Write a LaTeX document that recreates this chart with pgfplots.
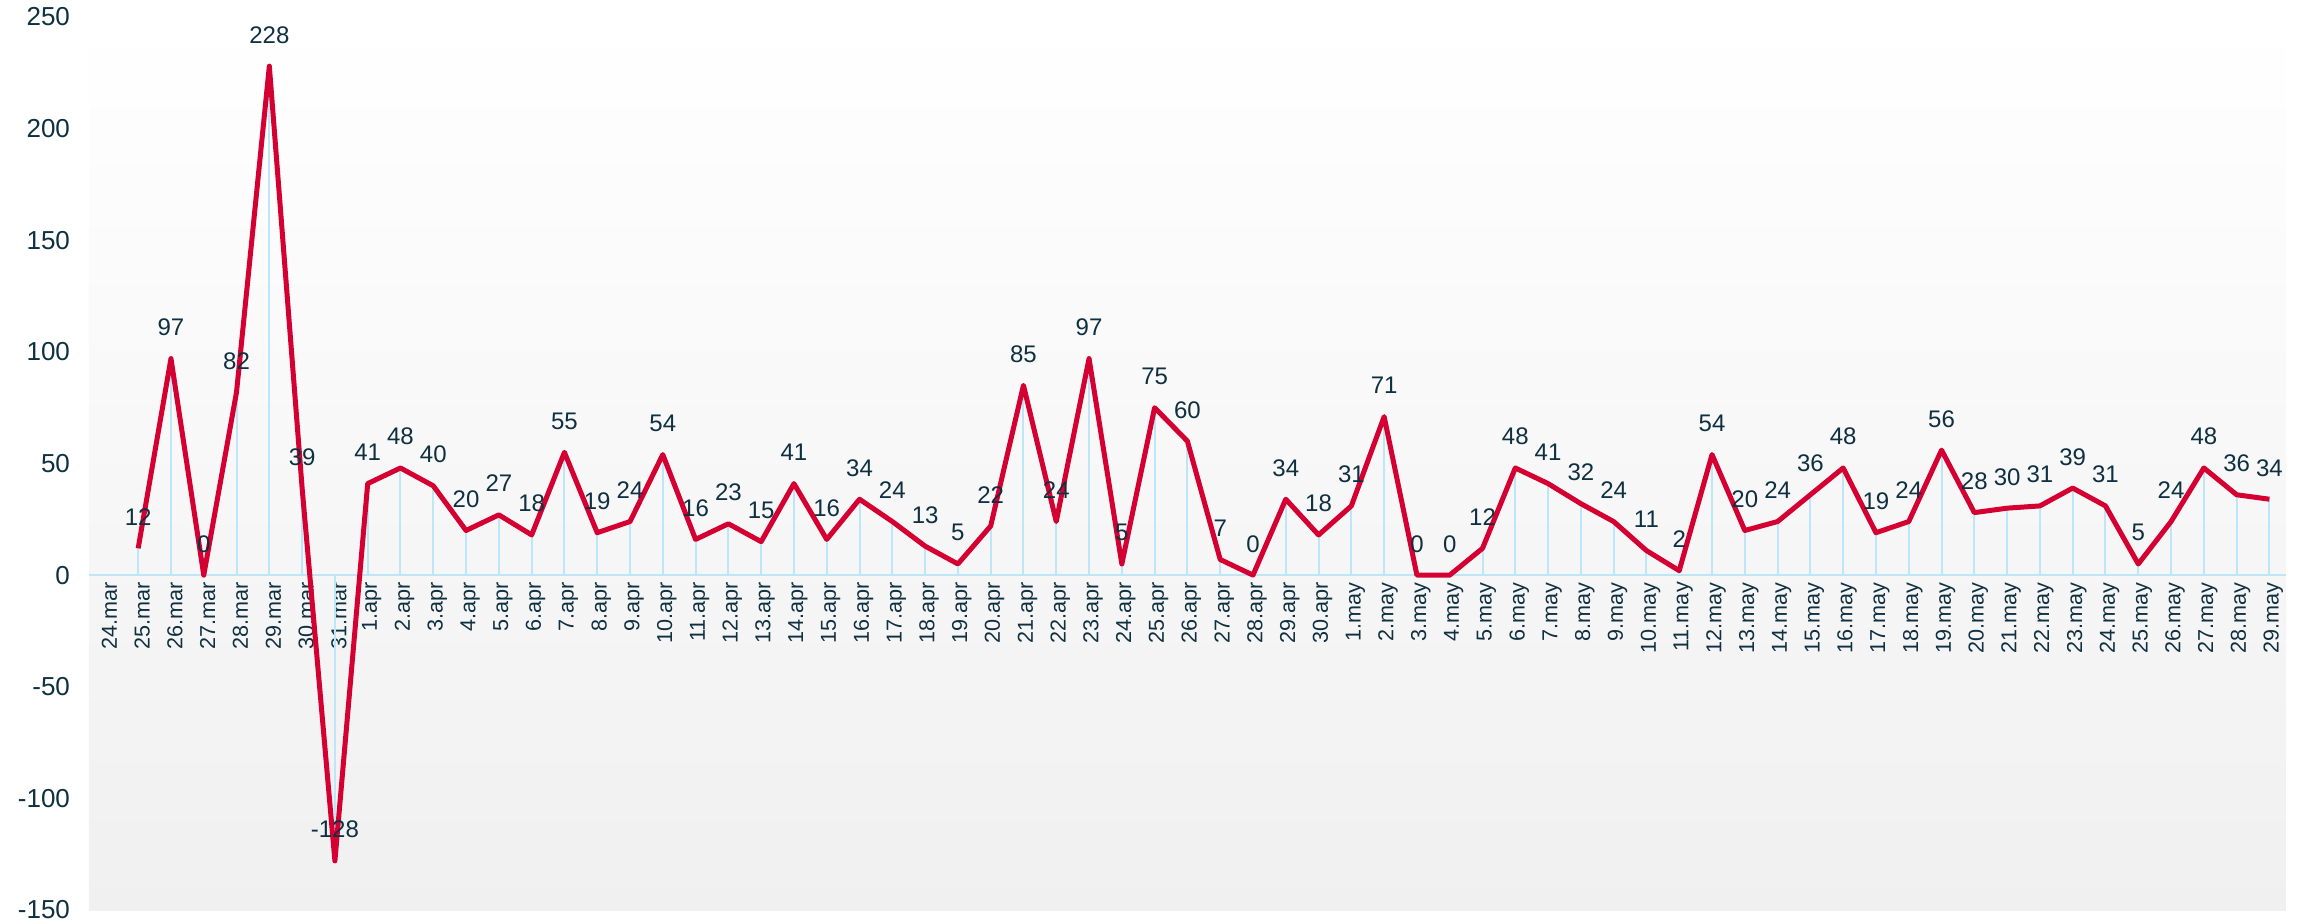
\documentclass[border=0pt]{standalone}
\usepackage{fontspec}
\setmainfont{Liberation Sans}
\usepackage{pgfplots}
\usepackage{pgfplotstable}
\pgfplotsset{compat=1.18}
\definecolor{linered}{RGB}{213,0,50}
\definecolor{dropblue}{RGB}{190,230,246}
\definecolor{txt}{RGB}{14,48,64}
\definecolor{bggray}{RGB}{240,240,240}

\pgfplotstableread{
x y
1 12
2 97
3 0
4 82
5 228
6 39
7 -128
8 41
9 48
10 40
11 20
12 27
13 18
14 55
15 19
16 24
17 54
18 16
19 23
20 15
21 41
22 16
23 34
24 24
25 13
26 5
27 22
28 85
29 24
30 97
31 5
32 75
33 60
34 7
35 0
36 34
37 18
38 31
39 71
40 0
41 0
42 12
43 48
44 41
45 32
46 24
47 11
48 2
49 54
50 20
51 24
52 36
53 48
54 19
55 24
56 56
57 28
58 30
59 31
60 39
61 31
62 5
63 24
64 48
65 36
66 34
}\data

\begin{document}
\begin{tikzpicture}
\begin{axis}[
  scale only axis, width=1098.5pt, height=446.5pt,
  xmin=-0.5, xmax=66.5, ymin=-150, ymax=250,
  axis x line=middle, axis y line=left,
  x axis line style={draw=dropblue, line width=1pt, -},
  y axis line style={draw=none},
  ytick={-150,-100,...,250},
  xtick={0,...,66},
  xticklabels={24.mar,25.mar,26.mar,27.mar,28.mar,29.mar,30.mar,31.mar,
    1.apr,2.apr,3.apr,4.apr,5.apr,6.apr,7.apr,8.apr,9.apr,10.apr,11.apr,12.apr,13.apr,14.apr,15.apr,16.apr,17.apr,18.apr,19.apr,20.apr,21.apr,22.apr,23.apr,24.apr,25.apr,26.apr,27.apr,28.apr,29.apr,30.apr,
    1.may,2.may,3.may,4.may,5.may,6.may,7.may,8.may,9.may,10.may,11.may,12.may,13.may,14.may,15.may,16.may,17.may,18.may,19.may,20.may,21.may,22.may,23.may,24.may,25.may,26.may,27.may,28.may,29.may},
  major tick length=0pt,
  xticklabel style={rotate=90, anchor=east, yshift=-2pt, font=\fontsize{10.8}{12}\selectfont, text=txt},
  yticklabel style={font=\fontsize{13}{15}\selectfont, text=txt, xshift=-6pt},
  /pgf/number format/assume math mode=true,
  hide obscured y ticks=false,
  hide obscured x ticks=false,
  axis background/.style={shade, top color=white, bottom color=bggray},
  clip=false,
]
\addplot[ycomb, draw=dropblue, line width=1pt, mark=none] table {\data};
\addplot[linered, line width=2.5pt, line join=round, mark=none,
  nodes near coords,
  every node near coord/.append style={anchor=base, yshift=11.5pt, font=\fontsize{12}{14}\selectfont, text=txt}] table {\data};
\end{axis}
\pgfresetboundingbox
\path (-44.5pt,-6.5pt) rectangle (1112pt,455pt);
\end{tikzpicture}
\end{document}
